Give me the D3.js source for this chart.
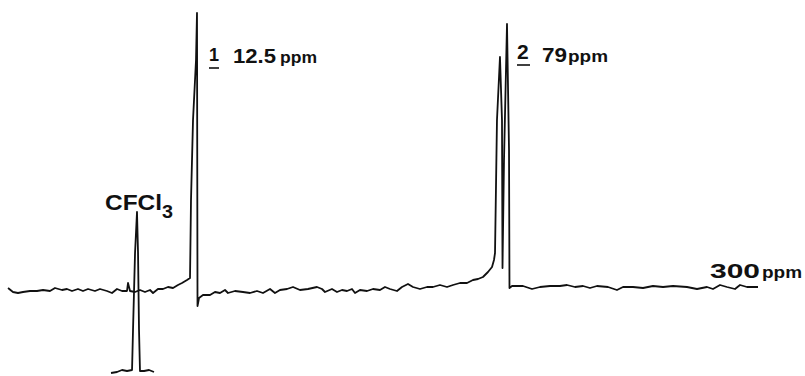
<!DOCTYPE html>
<html>
<head>
<meta charset="utf-8">
<script src="https://cdn.jsdelivr.net/npm/d3@7"></script>
<style>
  body { margin: 0; background: #fff; }
  text { font-family: "Liberation Sans", Arial, sans-serif; font-weight: bold; fill: #111; }
</style>
</head>
<body>
<div id="chart"></div>
<script>
var svgWidth = 805;
var svgHeight = 376;

// spectrum: [ppm, intensity]
var baselineLeft = [
  [-27.54, 2], [-26.48, -2], [-25.41, -3], [-24.34, -2], [-22.85, -1], [-21.35, -1],
  [-20.07, 0], [-18.58, -1], [-17.51, 2], [-16.01, 0], [-14.95, 1], [-13.88, -1],
  [-12.60, 1], [-11.53, -1], [-10.46, 1], [-8.97, -1], [-7.90, 1], [-6.41, -1],
  [-5.34, -3], [-4.27, 1], [-3.20, -1], [-2.14, -1], [-1.92, 7], [-1.49, -1],
  [-0.43, -2], [0.64, 0], [1.71, -2], [2.78, 0], [3.42, -3], [4.48, 1], [5.55, 1],
  [6.62, 3], [7.69, 2], [8.75, 5], [9.61, 7], [10.68, 10], [11.32, 12]
];
var peak1 = [
  [11.53, 90], [11.96, 170], [12.60, 230], [12.81, 277], [12.92, -16], [13.24, -8]
];
var baselineMid = [
  [14.09, -5], [15.59, -5], [16.65, -2], [17.72, -3], [18.79, 0], [19.43, -3],
  [20.92, -1], [22.63, -2], [24.13, -3], [25.62, -1], [26.90, -3], [28.40, 1],
  [29.46, -3], [30.53, 0], [32.03, 1], [33.31, 3], [34.80, 0], [36.51, 1],
  [38.43, 3], [39.50, 1], [40.14, -2], [41.63, 1], [42.70, -2], [43.77, 0],
  [44.84, -1], [45.90, 1], [46.55, -3], [47.61, 0], [49.11, -1], [50.39, 1],
  [51.88, 0], [52.95, 3], [54.02, 1], [55.51, -1], [56.58, 3], [57.86, 6],
  [58.93, 3], [60.42, 1], [61.92, 3], [63.20, 3], [64.69, 5], [66.19, 3],
  [67.47, 5], [68.96, 7], [70.46, 7], [71.74, 10], [72.81, 11], [73.87, 13],
  [74.94, 18], [75.80, 23], [76.22, 30], [76.44, 37]
];
var peak2 = [
  [76.86, 170], [77.50, 233], [77.93, 170], [78.04, 22], [78.36, 130],
  [79.00, 266], [79.43, 140], [79.53, 2], [80.07, 4]
];
var baselineRight = [
  [82.41, 4], [84.34, 1], [86.04, 3], [88.18, 4], [90.31, 4], [91.81, 5],
  [93.52, 3], [95.23, 4], [96.72, 2], [98.21, 4], [100.56, 3], [102.48, 0],
  [103.77, 3], [105.90, 3], [108.04, 2], [110.17, 4], [112.31, 3], [114.44, 4],
  [117.43, 3], [119.57, 1], [121.70, 3], [122.98, 1], [124.48, 5], [125.97, 3],
  [127.68, 1], [128.75, 5], [130.24, 3], [132.59, 3]
];
// CFCl3 reference, recorded with an offset
var refTrace = [
  [-5.55, -83], [-4.27, -82], [-3.20, -80], [-2.13, -81], [-1.06, -80],
  [-0.85, -40], [-0.42, 37], [0, 78], [0.22, 37], [0.43, -40], [0.64, -81],
  [1.50, -81], [2.57, -80], [3.63, -82]
];

var peakPpm = [12.81, 79.0];
var peakNums = ["1", "2"];
var peakValues = ["12.5", "79"];
var refName = ["CFCl", "3"];
var widthLabel = ["300", "ppm"];

var svg = d3.select("#chart")
  .append("svg")
  .attr("width", svgWidth)
  .attr("height", svgHeight);

var x = d3.scaleLinear().domain([0, 79]).range([137, 507]);
var y = d3.scaleLinear().domain([0, 100]).range([290, 190]);

var line = d3.line()
  .x(d => x(d[0]))
  .y(d => y(d[1]));

var mainTrace = baselineLeft.concat(peak1, baselineMid, peak2, baselineRight);

svg.append("path")
  .datum(mainTrace)
  .attr("d", line)
  .attr("fill", "none")
  .attr("stroke", "#111")
  .attr("stroke-width", 1.8)
  .attr("stroke-linejoin", "round");

svg.append("path")
  .datum(refTrace)
  .attr("d", line)
  .attr("fill", "none")
  .attr("stroke", "#111")
  .attr("stroke-width", 1.8)
  .attr("stroke-linejoin", "round");

// peak labels
var numSize = [18, 21];
var numY = [61, 59];
var lineY = [68, 65];
var valDx = [36, 35];
var valLen = [43, 25];
var unitDx = [83, 61];
var unitLen = [37, 40];
var valY = [63, 62];

peakPpm.forEach(function(p, i) {
  var px = x(p);
  var nx = px + (i === 0 ? 12 : 10);
  svg.append("text")
    .attr("x", nx).attr("y", numY[i])
    .style("font-size", numSize[i] + "px")
    .text(peakNums[i]);
  svg.append("line")
    .attr("x1", nx).attr("x2", nx + (i === 0 ? 10 : 13))
    .attr("y1", lineY[i]).attr("y2", lineY[i])
    .attr("stroke", "#111").attr("stroke-width", 1.6);
  svg.append("text")
    .attr("x", px + valDx[i]).attr("y", valY[i])
    .style("font-size", "21px")
    .attr("textLength", valLen[i]).attr("lengthAdjust", "spacingAndGlyphs")
    .text(peakValues[i]);
  svg.append("text")
    .attr("x", px + unitDx[i]).attr("y", valY[i])
    .style("font-size", "17px")
    .attr("textLength", unitLen[i]).attr("lengthAdjust", "spacingAndGlyphs")
    .text("ppm");
});

// reference label
var refTop = d3.max(refTrace, d => d[1]);
svg.append("text")
  .attr("x", x(0) - 32).attr("y", y(refTop) - 2)
  .style("font-size", "22px")
  .attr("textLength", 57).attr("lengthAdjust", "spacingAndGlyphs")
  .text(refName[0]);
svg.append("text")
  .attr("x", x(0) + 25).attr("y", y(refTop) + 6)
  .style("font-size", "18px")
  .attr("textLength", 11).attr("lengthAdjust", "spacingAndGlyphs")
  .text(refName[1]);

// sweep width label at right end
var endPt = baselineRight[baselineRight.length - 1];
svg.append("text")
  .attr("x", x(endPt[0]) - 48).attr("y", y(endPt[1]) - 9)
  .style("font-size", "20px")
  .attr("textLength", 50).attr("lengthAdjust", "spacingAndGlyphs")
  .text(widthLabel[0]);
svg.append("text")
  .attr("x", x(endPt[0]) + 4).attr("y", y(endPt[1]) - 9)
  .style("font-size", "16px")
  .attr("textLength", 40).attr("lengthAdjust", "spacingAndGlyphs")
  .text(widthLabel[1]);
</script>
</body>
</html>
